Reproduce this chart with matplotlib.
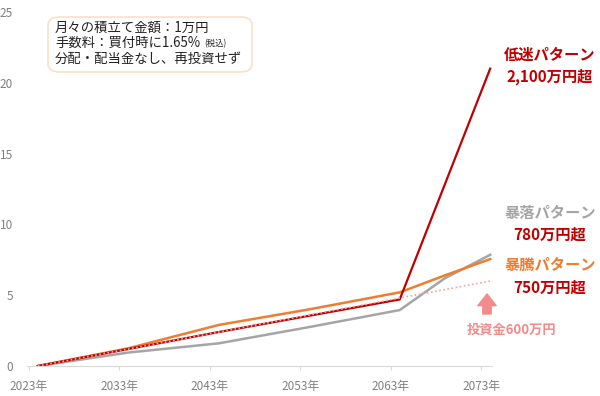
import matplotlib
matplotlib.use("Agg")
import matplotlib.pyplot as plt
from matplotlib.patches import FancyBboxPatch
from matplotlib.text import Annotation

plt.rcParams["font.family"] = ["Noto Sans CJK JP", "DejaVu Sans"]

# data (axis unit = 100万円)
years = [2024, 2034, 2044, 2054, 2064, 2074]
low = [0, 1.2, 2.4, 3.55, 4.7, 21.0]          # 低迷パターン
crash_years = [2024, 2034, 2044, 2054, 2064, 2069, 2074]
crash = [0, 0.95, 1.6, 2.75, 3.95, 6.2, 7.85]  # 暴落パターン
boom_years = [2024, 2034, 2044, 2054, 2064, 2069, 2074]
boom = [0, 1.25, 2.9, 4.0, 5.2, 6.4, 7.55]     # 暴騰パターン
principal = [0, 1.2, 2.4, 3.6, 4.8, 6.0]       # 投資金
tick_years = [2023, 2033, 2043, 2053, 2063, 2073]
yticks = [0, 5, 10, 15, 20, 25]

RED = "#C00000"
ORANGE = "#ED7D31"
GRAY = "#A5A5A5"
PINK = "#F4A3A3"

W, H = 600, 396
fig = plt.figure(figsize=(6, 3.96), dpi=100)
ax = fig.add_axes([27 / W, 1 - 366 / H, (492 - 27) / W, (366 - 12) / H])

ax.plot(crash_years, crash, color=GRAY, lw=1.8)
ax.plot(boom_years, boom, color=ORANGE, lw=1.8)
ax.plot(years, low, color=RED, lw=1.6)
ax.plot(years, principal, color=PINK, lw=1.2, ls=(0, (1, 1.5)))

ax.set_xlim(2022.8, 2074.2)
ax.set_ylim(0, 25)
ax.set_xticks(tick_years)
ax.set_xticklabels([f"{y}年" for y in tick_years])
ax.set_yticks(yticks)
for s in ["top", "right", "left"]:
    ax.spines[s].set_visible(False)
ax.spines["bottom"].set_color("#D9D9D9")
ax.tick_params(axis="x", colors="#D9D9D9", labelcolor="#808080", labelsize=8.5, length=3, pad=7)
ax.tick_params(axis="y", labelcolor="#808080", labelsize=8.5, length=0, pad=10)

# note box
box = FancyBboxPatch((48 / W, 1 - 72 / H), 204 / W, 55 / H, boxstyle="round,pad=0,rounding_size=0.02",
                     transform=fig.transFigure, facecolor="white", edgecolor="#FBE0C8", lw=1.2)
fig.patches.append(box)
note = dict(fontsize=9.6, va="center", color="#222222")
fig.text(55 / W, 1 - 28 / H, "月々の積立て金額：1万円", **note)
fee = fig.text(55 / W, 1 - 43 / H, "手数料：買付時に1.65%", **note)
fig.text(55 / W, 1 - 59 / H, "分配・配当金なし、再投資せず", **note)
tax = Annotation("(税込)", xy=(1, 0.45), xycoords=fee, xytext=(3, 0), textcoords="offset points",
                 fontsize=6, va="center", ha="left", color="#222222")
tax.set_zorder(5)
fig.add_artist(tax)

# right-side labels
lab = dict(fontsize=11, fontweight="bold", ha="center", va="center")
fig.text(550 / W, 1 - 55 / H, "低迷パターン", color=RED, **lab)
fig.text(550 / W, 1 - 77 / H, "2,100万円超", color=RED, **lab)
fig.text(550 / W, 1 - 213 / H, "暴落パターン", color=GRAY, **lab)
fig.text(550 / W, 1 - 235 / H, "780万円超", color=RED, **lab)
fig.text(550 / W, 1 - 265 / H, "暴騰パターン", color=ORANGE, **lab)
fig.text(550 / W, 1 - 288 / H, "750万円超", color=RED, **lab)

ax.annotate("", xy=(487 / W, 1 - 294 / H), xytext=(487 / W, 1 - 314 / H),
            xycoords="figure fraction", textcoords="figure fraction",
            arrowprops=dict(arrowstyle="simple,head_width=1.1,head_length=0.7,tail_width=0.5",
                            color="#F28B8B", mutation_scale=12, shrinkA=0, shrinkB=0))
fig.text(512 / W, 1 - 330 / H, "投資金600万円", color="#F28B8B", fontsize=9.5,
         fontweight="bold", ha="center", va="center")

fig.savefig("out.png", dpi=100, facecolor="white")
